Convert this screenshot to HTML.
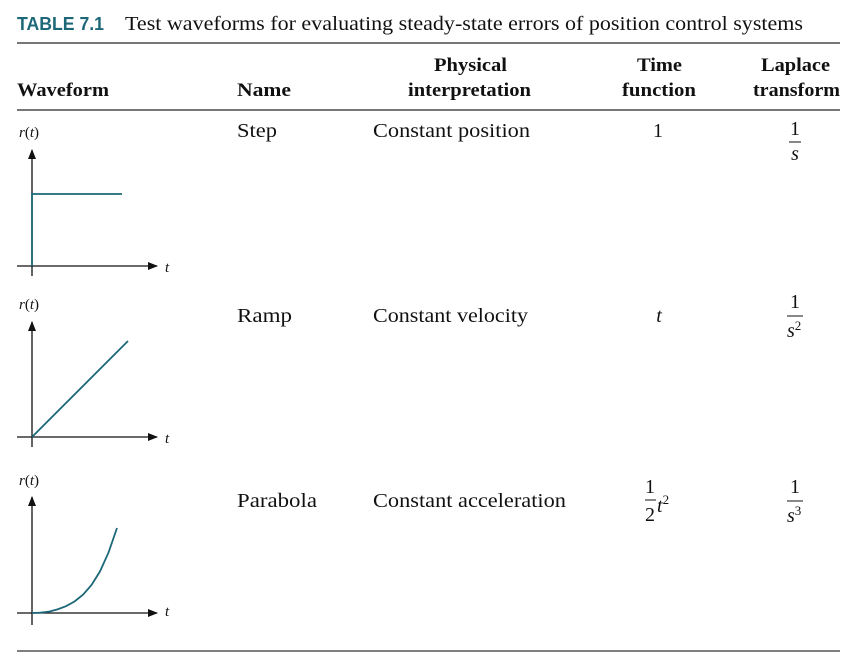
<!DOCTYPE html>
<html><head><meta charset="utf-8"><style>
html,body{margin:0;padding:0;background:#fff;}
svg{display:block;}
.s{font-family:"Liberation Serif",serif;fill:#111;}
.b{font-weight:bold;}
.i{font-style:italic;}
</style></head><body>
<svg width="855" height="666" viewBox="0 0 855 666">
<defs><marker id="ar" markerWidth="10" markerHeight="8" refX="9" refY="4" orient="auto" markerUnits="userSpaceOnUse"><path d="M0,0 L10,4 L0,8 Z" fill="#111"/></marker></defs>
<text x="17" y="30" font-family="Liberation Sans,sans-serif" font-weight="bold" font-size="18" fill="#1d6878" textLength="87" lengthAdjust="spacingAndGlyphs">TABLE 7.1</text>
<text x="125" y="30" class="s" font-size="20" textLength="678" lengthAdjust="spacingAndGlyphs">Test waveforms for evaluating steady-state errors of position control systems</text>
<line x1="17" y1="43" x2="840" y2="43" stroke="#777" stroke-width="2"/>
<g class="s b" font-size="19">
<text x="17" y="96" textLength="92" lengthAdjust="spacingAndGlyphs">Waveform</text>
<text x="237" y="96" textLength="54" lengthAdjust="spacingAndGlyphs">Name</text>
<text x="434" y="71" textLength="73" lengthAdjust="spacingAndGlyphs">Physical</text>
<text x="408" y="96" textLength="123" lengthAdjust="spacingAndGlyphs">interpretation</text>
<text x="637" y="71" textLength="45" lengthAdjust="spacingAndGlyphs">Time</text>
<text x="622" y="96" textLength="74" lengthAdjust="spacingAndGlyphs">function</text>
<text x="761" y="71" textLength="69" lengthAdjust="spacingAndGlyphs">Laplace</text>
<text x="753" y="96" textLength="87" lengthAdjust="spacingAndGlyphs">transform</text>
</g>
<line x1="17" y1="110" x2="840" y2="110" stroke="#777" stroke-width="2"/>

<g>
<text x="19" y="137" class="s" font-size="15"><tspan class="i">r</tspan>(<tspan class="i">t</tspan>)</text>
<line x1="32" y1="276" x2="32" y2="150" stroke="#111" stroke-width="1.3" marker-end="url(#ar)"/>
<line x1="17" y1="266" x2="157" y2="266" stroke="#111" stroke-width="1.3" marker-end="url(#ar)"/>
<text x="165" y="272" class="s i" font-size="15">t</text>
<polyline points="32,266 32,194 122,194" fill="none" stroke="#1d6878" stroke-width="1.8"/>
<text x="237" y="137" class="s" font-size="20" textLength="40" lengthAdjust="spacingAndGlyphs">Step</text>
<text x="373" y="137" class="s" font-size="20" textLength="157" lengthAdjust="spacingAndGlyphs">Constant position</text>
<text x="658" y="137" class="s" font-size="20" text-anchor="middle">1</text>
<text x="795" y="135" class="s" font-size="20" text-anchor="middle">1</text>
<line x1="789" y1="142" x2="801" y2="142" stroke="#111" stroke-width="1"/>
<text x="795" y="160" class="s i" font-size="20" text-anchor="middle">s</text>
</g>

<g>
<text x="19" y="309" class="s" font-size="15"><tspan class="i">r</tspan>(<tspan class="i">t</tspan>)</text>
<line x1="32" y1="447" x2="32" y2="322" stroke="#111" stroke-width="1.3" marker-end="url(#ar)"/>
<line x1="17" y1="437" x2="157" y2="437" stroke="#111" stroke-width="1.3" marker-end="url(#ar)"/>
<text x="165" y="443" class="s i" font-size="15">t</text>
<line x1="32" y1="437" x2="128" y2="341" stroke="#1d6878" stroke-width="1.8"/>
<text x="237" y="322" class="s" font-size="20" textLength="55" lengthAdjust="spacingAndGlyphs">Ramp</text>
<text x="373" y="322" class="s" font-size="20" textLength="155" lengthAdjust="spacingAndGlyphs">Constant velocity</text>
<text x="659" y="322" class="s i" font-size="20" text-anchor="middle">t</text>
<text x="795" y="308" class="s" font-size="20" text-anchor="middle">1</text>
<line x1="787" y1="316" x2="803" y2="316" stroke="#111" stroke-width="1"/>
<text x="787" y="337" class="s" font-size="20"><tspan class="i">s</tspan><tspan font-size="13" dy="-7">2</tspan></text>
</g>

<g>
<text x="19" y="485" class="s" font-size="15"><tspan class="i">r</tspan>(<tspan class="i">t</tspan>)</text>
<line x1="32" y1="625" x2="32" y2="497" stroke="#111" stroke-width="1.3" marker-end="url(#ar)"/>
<line x1="17" y1="613" x2="157" y2="613" stroke="#111" stroke-width="1.3" marker-end="url(#ar)"/>
<text x="165" y="616" class="s i" font-size="15">t</text>
<path id="para" fill="none" stroke="#1d6878" stroke-width="1.8"/>
<text x="237" y="507" class="s" font-size="20" textLength="80" lengthAdjust="spacingAndGlyphs">Parabola</text>
<text x="373" y="507" class="s" font-size="20" textLength="193" lengthAdjust="spacingAndGlyphs">Constant acceleration</text>
<text x="650" y="493" class="s" font-size="20" text-anchor="middle">1</text>
<line x1="645" y1="500" x2="656" y2="500" stroke="#111" stroke-width="1"/>
<text x="650" y="521" class="s" font-size="20" text-anchor="middle">2</text>
<text x="657" y="512" class="s" font-size="20"><tspan class="i">t</tspan><tspan font-size="13" dy="-8">2</tspan></text>
<text x="795" y="493" class="s" font-size="20" text-anchor="middle">1</text>
<line x1="787" y1="501" x2="803" y2="501" stroke="#111" stroke-width="1"/>
<text x="787" y="522" class="s" font-size="20"><tspan class="i">s</tspan><tspan font-size="13" dy="-7">3</tspan></text>
</g>

<line x1="17" y1="651" x2="840" y2="651" stroke="#555" stroke-width="1.5"/>
</svg>
<script>
var paraT=[0,0.1,0.2,0.3,0.4,0.5,0.6,0.7,0.8,0.9,1.0];
var paraV=[0,0.003,0.016,0.042,0.08,0.135,0.215,0.33,0.49,0.71,1.0];
function px(t){return 32+t*85;}
function py(v){return 613-v*85;}
var d=paraT.map(function(t,i){return (i?'L':'M')+px(t).toFixed(1)+','+py(paraV[i]).toFixed(1);}).join(' ');
document.getElementById('para').setAttribute('d',d);
</script>
</body></html>
